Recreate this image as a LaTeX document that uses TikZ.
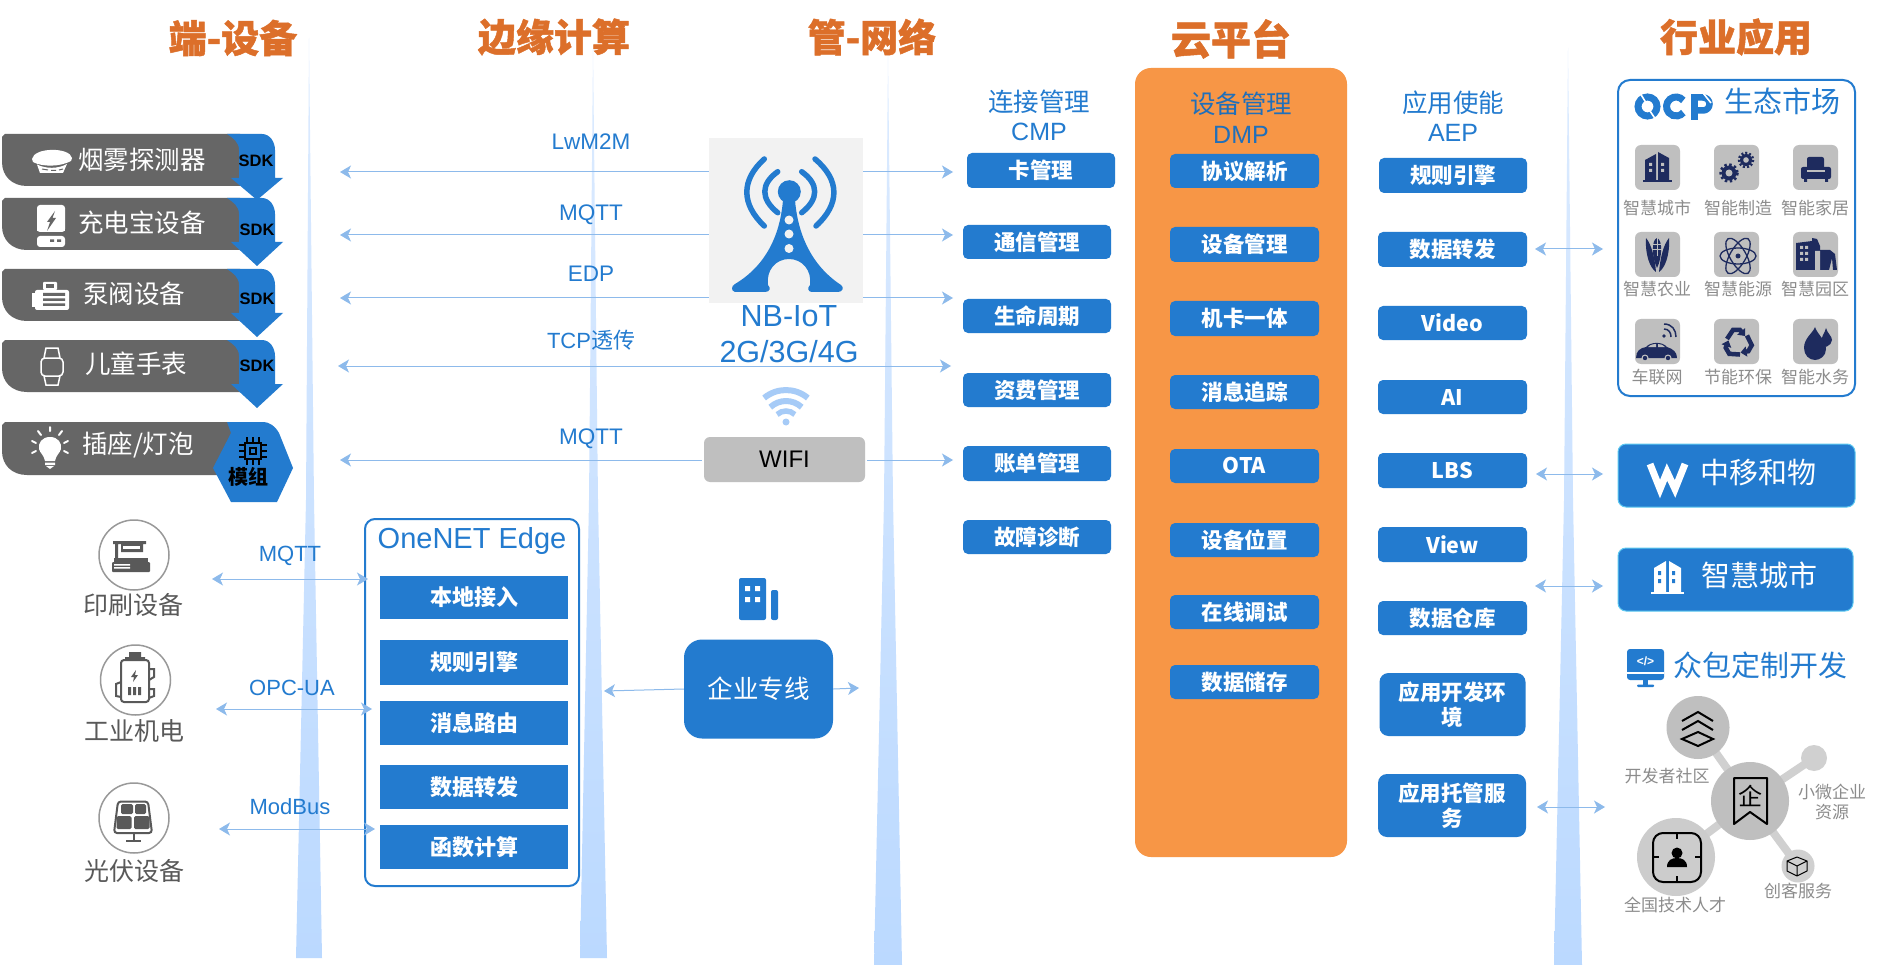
\documentclass[tikz,border=0pt]{standalone}
\usepackage{fontspec}
\setmainfont{Liberation Sans}
\newfontfamily\cjk{Noto Sans CJK SC}
\newfontfamily\cjkt{Noto Sans CJK SC}[BoldFeatures={FakeBold=1.2}]
\usetikzlibrary{arrows.meta,calc}
\definecolor{cblue}{HTML}{237BCF}
\definecolor{ctitle}{HTML}{DC6F2A}
\definecolor{carr}{HTML}{8DBAEB}
\definecolor{cnavy}{HTML}{1E2B5E}
\definecolor{cgray}{HTML}{666666}
\definecolor{cdark}{HTML}{595959}
\definecolor{ctile}{HTML}{BFBFBF}
\definecolor{clab}{HTML}{8C8C8C}
\definecolor{corange}{HTML}{F79646}
\definecolor{cspikeA}{HTML}{DCEBFF}
\definecolor{cspikeM}{HTML}{CAE1FF}
\definecolor{cspikeB}{HTML}{BBD9FF}
\definecolor{ctower}{HTML}{F2F2F2}
\definecolor{cwifi}{HTML}{A6CBF7}
\definecolor{ccyan}{HTML}{5CC8F0}
\definecolor{clink}{HTML}{D0D0D0}
\newcommand\zr[1]{\cjk\fontsize{#1}{#1}\selectfont}
\newcommand\zb[1]{\cjk\bfseries\fontsize{#1}{#1}\selectfont}
\newcommand\zt[1]{\cjkt\bfseries\fontsize{#1}{#1}\selectfont}
\newcommand\enr[1]{\rmfamily\fontsize{#1}{#1}\selectfont}
\newcommand\enb[1]{\rmfamily\bfseries\fontsize{#1}{#1}\selectfont}
% name x y font colour text
\newcommand\tx[6]{\node[inner sep=0pt,text=#5,font=#4,align=center] (#1) at (#2,#3) {#6};}
% name x1 y1 x2 y2 size text
\newcommand\bbox[7]{\node[bluebox,minimum width={(#4-#2)*1pt},minimum height={(#5-#3)*1pt},font=\zb{#6}] (#1) at ({(#2+#4)/2},{(#3+#5)/2}) {#7};}
\newcommand\flatbox[7]{\node[blueflat,minimum width={(#4-#2)*1pt},minimum height={(#5-#3)*1pt},font=\zb{#6}] (#1) at ({(#2+#4)/2},{(#3+#5)/2}) {#7};}
% spike: xtop ytop xl500 xr500 xl xr ybot
\newcommand\spike[7]{\shade[top color=cspikeA,middle color=cspikeM,bottom color=cspikeB] (#1,#2) -- (#4,500) -- (#6,#7) -- (#5,#7) -- (#3,500) -- cycle;}
% device bar: y1 y2
\newcommand\devbar[2]{\fill[cgray] (5,#1) -- (240,#1) -- (240,#2) -- (27,#2) .. controls (12,#2) and (2,{#2-10}) .. (2,{#2-24}) -- (2,{#1+3}) -- cycle;}
\newcommand\sdk[4]{\devbar{#1}{#2}\fill[cblue] (227,#1) -- (262,#1) .. controls (270,#1) and (275,{#1+8}) .. (275,{#1+16}) -- (275,#3) -- (283,#3) -- (257,#4) -- (231,#3) -- (239,#3) -- (239,{#1+16}) .. controls (239,{#1+8}) and (233,{#1+4}) .. (227,#1) -- cycle;}
\newcommand\tile[2]{\fill[ctile,rounded corners=6pt] (#1,#2) rectangle ++(45,45);}
\tikzset{
 arr/.style={draw=carr,line width=1pt,-{Stealth[length=11pt,width=13pt,inset=3pt]}},
 darr/.style={draw=carr,line width=1pt,{Stealth[length=11pt,width=13pt,inset=3pt]}-{Stealth[length=11pt,width=13pt,inset=3pt]}},
 bluebox/.style={fill=cblue,text=white,inner sep=0pt,rounded corners=5pt,align=center},
 blueflat/.style={fill=cblue,text=white,inner sep=0pt,align=center},
 devring/.style={draw=gray!80,line width=1.5pt,fill=white,circle,inner sep=0pt,minimum size=70pt},
 ic/.style={cdark},
}
\begin{document}
\begin{tikzpicture}[x=1pt,y=-1pt]
\useasboundingbox (0,0) rectangle (1902,965);
\fill[white] (0,0) rectangle (1902,965);
% spikes
\spike{309}{38}{306}{314}{296}{322}{958}
\spike{593}{48}{589}{598}{580}{607}{958}
\spike{888}{55}{884}{893}{874}{902}{965}
\spike{1568}{48}{1564}{1573}{1554}{1582}{965}
% titles
\tx{t1}{233}{38}{\zt{38}}{ctitle}{端-设备}
\tx{t2}{554}{37}{\zt{38}}{ctitle}{边缘计算}
\tx{t3}{872}{37}{\zt{38}}{ctitle}{管-网络}
\tx{t4}{1231}{39}{\zt{40}}{ctitle}{云平台}
\tx{t5}{1736}{37}{\zt{38}}{ctitle}{行业应用}
% device rows
\sdk{134}{186}{178}{200}
\sdk{198}{250}{242}{266}
\sdk{269}{321}{313}{337}
\sdk{340}{392}{384}{408}
\devbar{422}{475}
\fill[cblue] (227,422) -- (262,422) .. controls (270,422) and (275,426) .. (279,433) -- (293,468) -- (277,502) -- (231,502) -- (213,468) -- (231,433) -- cycle;
\tx{s1}{256}{161}{\enb{16.5}}{black}{SDK}
\tx{s2}{257}{230}{\enb{16.5}}{black}{SDK}
\tx{s3}{257}{299}{\enb{16.5}}{black}{SDK}
\tx{s4}{257}{366}{\enb{16.5}}{black}{SDK}
\tx{d1}{142}{160}{\zr{25.5}}{white}{烟雾探测器}
\tx{d2}{142}{223}{\zr{25.5}}{white}{充电宝设备}
\tx{d3}{134}{294}{\zr{25.5}}{white}{泵阀设备}
\tx{d4}{136}{364}{\zr{25.5}}{white}{儿童手表}
\tx{d5}{138}{445}{\zr{25.5}}{white}{插座/灯泡}
\tx{mz}{248}{477}{\zb{20}}{black}{模组}
% chip icon
\draw[black,line width=2pt] (245,443) rectangle (261,459);
\draw[black,line width=2pt] (250,448) rectangle (256,454);
\foreach \i in {-6,0,6}{
 \draw[black,line width=1.5pt] ({253+\i},437) -- ({253+\i},443) ({253+\i},459) -- ({253+\i},465) (239,{451+\i}) -- (245,{451+\i}) (261,{451+\i}) -- (267,{451+\i});
}
% smoke detector
\fill[white] (32,159) .. controls (34,147) and (70,147) .. (72,158) -- (71,161) .. controls (60,167) and (42,167) .. (33,162) -- cycle;
\fill[white] (37,164.5) .. controls (46,169) and (58,169) .. (67,164) -- (63,173) -- (40,173) -- cycle;
\draw[cgray,line width=1pt] (42,169) -- (48,170) (51,170.5) -- (56,170.5) (59,170) -- (63,169);
% power bank
\fill[white,rounded corners=3pt] (37,205) rectangle (65,232);
\fill[white,rounded corners=3pt] (37,236) rectangle (65,247);
\fill[white] (37,226) rectangle (65,231.5);
\fill[cgray] (55,211) -- (47,222) -- (50,222) -- (47,231) -- (56,218) -- (52.5,218) -- cycle;
\fill[cgray] (50,239.5) rectangle (54,242) (57,239.5) rectangle (61,242);
% pump
\fill[white,rounded corners=2pt] (35,290) rectangle (69,310);
\fill[white] (32,293) rectangle (35,307);
\fill[white,rounded corners=1pt] (43,282) rectangle (57,290);
\fill[cgray] (46,284) rectangle (54,288);
\fill[cgray] (43,293) rectangle (65,296) (43,298.5) rectangle (65,301) (43,303.5) rectangle (65,306);
% watch
\draw[white,line width=1.5pt,rounded corners=4pt] (41,358) rectangle (63,376);
\draw[white,line width=1.5pt] (44,358) -- (46,348) -- (58,348) -- (60,358) (44,376) -- (46,385) -- (58,385) -- (60,376);
% bulb
\fill[white] (50,437) .. controls (42,437) and (38,443) .. (39,449) .. controls (40,453) and (44,455) .. (45,461) -- (55,461) .. controls (56,455) and (60,453) .. (61,449) .. controls (62,443) and (58,437) .. (50,437) -- cycle;
\fill[white] (45,462.5) rectangle (55,465) (46,466) -- (54,466) -- (50,469) -- cycle;
\draw[white,line width=2pt,line cap=round] (50,427) -- (50,431) (38,431) -- (41,435) (62,431) -- (59,435) (32,441) -- (36,443) (68,441) -- (64,443) (32,453) -- (36,451) (68,453) -- (64,451);
% protocol labels
\tx{l1}{591}{142}{\enr{22.5}}{cblue}{LwM2M}
\tx{l2}{591}{215}{\enr{22.5}}{cblue}{MQTT}
\tx{l3}{591}{274}{\enr{22.5}}{cblue}{EDP}
\tx{l4}{591}{340}{\enr{22}}{cblue}{TCP{\zr{22}透传}}
\tx{l5}{591}{439}{\enr{22.5}}{cblue}{MQTT}
% tower
\node[fill=ctower,inner sep=0pt,minimum width=154pt,minimum height=165pt] (tower) at (786,220.5) {};
\node[fill=black!25,inner sep=0pt,rounded corners=6pt,minimum width=161pt,minimum height=45pt,text=black,font=\enr{24}] (wifi) at (784.5,459.5) {WIFI};
\begin{scope}[cblue]
\draw[line width=5.5pt,line cap=round] (764.3,159) .. controls (741,180) and (741,204) .. (764.3,226);
\draw[line width=5.5pt,line cap=round] (815,159) .. controls (840,180) and (840,204) .. (816,226);
\draw[line width=5.5pt,line cap=round] (777.7,171.7) .. controls (760.5,184) and (760.5,199) .. (777.7,212.7);
\draw[line width=5.5pt,line cap=round] (801.7,171.7) .. controls (819,184) and (819,199) .. (801.7,212.7);
\fill (789.3,191.7) circle (11.5);
\fill (783,200) .. controls (781,225) and (772,262) .. (735,284) .. controls (731,286) and (731,291) .. (735,292) -- (765,292) .. controls (770,292) and (771,288) .. (768,285) .. controls (766,270) and (776,259) .. (789,259) .. controls (802,259) and (812,270) .. (810,285) .. controls (807,288) and (808,292) .. (812,292) -- (838,292) .. controls (843,292) and (844,287) .. (841,285) .. controls (806,262) and (797,225) .. (795,200) -- cycle;
\fill[ctower] (789,220) circle (4.5) (789,234) circle (4.5) (789,248.5) circle (4.5);
\end{scope}
\tx{nb}{789}{316}{\enr{30.5}}{cblue}{NB-IoT}
\tx{g4}{789}{352}{\enr{30.5}}{cblue}{2G/3G/4G}
% wifi arcs
\fill[cwifi] (786,422) circle (3.5);
\draw[cwifi,line width=6pt] (764.1,398) arc[start angle=130,end angle=50,radius=34pt];
\draw[cwifi,line width=6pt] (770.3,407.2) arc[start angle=133,end angle=47,radius=23pt];
\draw[cwifi,line width=5.5pt] (777.1,414.5) arc[start angle=133,end angle=47,radius=13pt];
% CMP
\tx{h1}{1039}{102}{\zr{25.5}}{cblue}{连接管理}
\tx{h1b}{1039}{132}{\enr{25}}{cblue}{CMP}
\bbox{c1}{967}{153}{1115}{188}{21.5}{卡管理}
\bbox{c2}{963}{225}{1111}{259}{21.5}{通信管理}
\bbox{c3}{963}{299}{1111}{333}{21.5}{生命周期}
\bbox{c4}{963}{373}{1111}{407}{21.5}{资费管理}
\bbox{c5}{963}{446}{1111}{481}{21.5}{账单管理}
\bbox{c6}{963}{520}{1111}{554}{21.5}{故障诊断}
% protocol connectors
\coordinate (pl1) at (340,172); \coordinate (pr1) at (953,172);
\coordinate (pl2) at (340,235); \coordinate (pr2) at (953,235);
\coordinate (pl3) at (340,298); \coordinate (pr3) at (953,298);
\coordinate (pl4) at (338,366); \coordinate (pr4) at (951,366);
\coordinate (pl5) at (340,460); \coordinate (pr5) at (953,460);
\draw[arr] (tower.west |- pl1) -- (pl1);
\draw[arr] (tower.east |- pr1) -- (pr1);
\draw[arr] (tower.west |- pl2) -- (pl2);
\draw[arr] (tower.east |- pr2) -- (pr2);
\draw[arr] (tower.west |- pl3) -- (pl3);
\draw[arr] (tower.east |- pr3) -- (pr3);
\draw[darr] (pl4) -- (pr4);
\draw[arr] ($(wifi.west |- pl5)+(-2,0)$) -- (pl5);
\draw[arr] ($(wifi.east |- pr5)+(2,0)$) -- (pr5);
% field devices
\node[devring] (r1) at (134,555) {};
\node[devring] (r2) at (135.5,680) {};
\node[devring] (r3) at (134,818) {};
\tx{f1}{133}{605}{\zr{25}}{cdark}{印刷设备}
\tx{f2}{134}{731}{\zr{25}}{cdark}{工业机电}
\tx{f3}{134}{871}{\zr{25}}{cdark}{光伏设备}
% printer
\fill[ic] (113,541) rectangle (146,544) (115,544) rectangle (118,559) (121,544) rectangle (143,552);
\fill[white] (123,546) rectangle (140,549);
\fill[ic] (114,558) rectangle (148,562);
\fill[ic,rounded corners=1pt] (112,562) rectangle (150,572);
\fill[white] (114,564) rectangle (130,565.5) (114,567) rectangle (130,568.5);
% motor/battery
\draw[ic,line width=2pt,rounded corners=3pt] (121,660) rectangle (149,702);
\fill[ic] (125,657) rectangle (145,660) (129,652) rectangle (141,657);
\draw[ic,line width=2pt] (149,669) -- (154,669) -- (154,677) -- (149,680) (149,689) -- (154,689) -- (154,696) -- (149,698) (121,682) -- (116,684) -- (116,696) -- (121,697);
\fill[ic] (136,670) -- (131,677) -- (134,677) -- (133,682) -- (138,675) -- (135,675) -- cycle;
\fill[ic] (128,687) rectangle (131,695) (133,687) rectangle (136,695) (138,687) rectangle (141,695);
% solar panel
\draw[ic,line width=2pt,rounded corners=3pt] (118,801.5) -- (148,801.5) -- (152,833) -- (114,833) -- cycle;
\fill[ic,rounded corners=1.5pt] (121,804) rectangle (133,814) (135,804) rectangle (146,814) (116.5,816) rectangle (131.5,829) (134,816) rectangle (149.5,829);
\fill[ic] (132.5,833) rectangle (135,840);
\fill[ic] (126,840) rectangle (141,842);
% field connectors
\node[draw=cblue,line width=2pt,rounded corners=10pt,inner sep=0pt,minimum width=214pt,minimum height=367pt] (edge) at (472,702.5) {};
\tx{eg}{472}{541}{\enr{29}}{cblue}{OneNET Edge}
\tx{m1}{290}{556}{\enr{22}}{cblue}{MQTT}
\tx{m2}{292}{688}{\enr{22}}{cblue}{OPC-UA}
\tx{m3}{290}{807}{\enr{22}}{cblue}{ModBus}
\coordinate (a1) at (212,579); \coordinate (b1) at (368,579);
\coordinate (a2) at (216,709); \coordinate (b2) at (372,709);
\coordinate (a3) at (219,829); \coordinate (b3) at (375,829);
\draw[darr] (a1) -- (b1);
\draw[darr] (a2) -- (b2);
\draw[darr] (a3) -- (b3);
\flatbox{e1}{380}{576}{568}{619}{22}{本地接入}
\flatbox{e2}{380}{640}{568}{685}{22}{规则引擎}
\flatbox{e3}{380}{701}{568}{745}{22}{消息路由}
\flatbox{e4}{380}{765}{568}{809}{22}{数据转发}
\flatbox{e5}{380}{825}{568}{869}{22}{函数计算}
% enterprise line
\node[fill=cblue,inner sep=0pt,rounded corners=18pt,minimum width=149pt,minimum height=99pt,text=white,font=\zr{25.5}] (ent) at (758.5,689) {企业专线};
\coordinate (el) at (604,691); \coordinate (er) at (859,688);
\draw[arr] (ent.west) -- (el);
\draw[arr] (ent.east) -- (er);
\fill[cblue,rounded corners=2pt] (739,578) rectangle (766,620) (771,590) rectangle (778,620);
\fill[white] (745,586) rectangle (750,591) (755,586) rectangle (760,591) (745,597) rectangle (750,602) (755,597) rectangle (760,602);
% orange platform
\fill[corange,rounded corners=16pt] (1135,68) rectangle (1347,857);
\tx{h2}{1241}{104}{\zr{25.5}}{cblue!90!black}{设备管理}
\tx{h2b}{1241}{135}{\enr{25}}{cblue!90!black}{DMP}
\bbox{g1}{1170}{154}{1319}{188}{21.5}{协议解析}
\bbox{g2}{1170}{227}{1319}{262}{21.5}{设备管理}
\bbox{g3}{1170}{301}{1319}{336}{21.5}{机卡一体}
\bbox{g4b}{1170}{375}{1319}{409}{21.5}{消息追踪}
\bbox{g5}{1170}{449}{1319}{483}{21.5}{OTA}
\bbox{g6}{1170}{523}{1319}{557}{21.5}{设备位置}
\bbox{g7}{1170}{595}{1319}{629}{21.5}{在线调试}
\bbox{g8}{1170}{665}{1319}{699}{21.5}{数据储存}
% AEP
\tx{h3}{1453}{103}{\zr{25.5}}{cblue}{应用使能}
\tx{h3b}{1453}{133}{\enr{25}}{cblue}{AEP}
\bbox{a01}{1379}{158}{1527}{193}{21.5}{规则引擎}
\bbox{a02}{1378}{232}{1527}{267}{21.5}{数据转发}
\bbox{a03}{1378}{306}{1527}{340}{21.5}{Video}
\bbox{a04}{1378}{380}{1527}{414}{21.5}{AI}
\bbox{a05}{1378}{453}{1527}{488}{21.5}{LBS}
\bbox{a06}{1378}{527}{1527}{562}{21.5}{View}
\bbox{a07}{1378}{601}{1527}{635}{21.5}{数据仓库}
\node[bluebox,rounded corners=9pt,minimum width=146pt,minimum height=63pt,font=\cjk\bfseries\fontsize{21.5}{25}\selectfont] (a08) at (1452.5,704.5) {应用开发环\\境};
\node[bluebox,rounded corners=9pt,minimum width=148pt,minimum height=63pt,font=\cjk\bfseries\fontsize{21.5}{25}\selectfont] (a09) at (1452,805.5) {应用托管服\\务};
% market arrows
\coordinate (q1) at (1535,249); \coordinate (w1) at (1603,249);
\coordinate (q2) at (1536,474); \coordinate (w2) at (1603,474);
\coordinate (q3) at (1535,586); \coordinate (w3) at (1603,586);
\coordinate (q4) at (1537,807); \coordinate (w4) at (1605,807);
\draw[darr] (q1) -- (w1);
\draw[darr] (q2) -- (w2);
\draw[darr] (q3) -- (w3);
\draw[darr] (q4) -- (w4);
% OCP market
\node[draw=cblue,line width=2pt,rounded corners=12pt,inner sep=0pt,minimum width=237pt,minimum height=316pt] (ocp) at (1736.5,238) {};
% OCP logo
\draw[cblue,line width=7pt] (1647.5,106.5) circle (9.5);
\draw[white,line width=1.6pt] (1640,93) -- (1645.5,102) (1650,111) -- (1656,120);
\draw[cblue,line width=7pt] (1683.3,100.4) arc[start angle=40,end angle=320,radius=9.5pt];
\fill[cblue] (1691,94) rectangle (1698,120);
\draw[cblue,line width=6.5pt] (1695,97.5) -- (1703,97.5) arc[start angle=90,end angle=-90,radius=6.5pt] -- (1695,110.5);
\draw[white,line width=1.6pt] (1703,93) -- (1711,103);
\tx{oc2}{1782}{101}{\zr{29}}{cblue}{生态市场}
\tile{1635}{145}\tile{1714}{145}\tile{1793}{145}
\tile{1635}{232}\tile{1714}{232}\tile{1793}{232}
\tile{1635}{319}\tile{1714}{319}\tile{1793}{319}
\tx{k1}{1657}{208}{\zr{17}}{clab}{智慧城市}
\tx{k2}{1738}{208}{\zr{17}}{clab}{智能制造}
\tx{k3}{1815}{208}{\zr{17}}{clab}{智能家居}
\tx{k4}{1657}{289}{\zr{17}}{clab}{智慧农业}
\tx{k5}{1738}{289}{\zr{17}}{clab}{智慧能源}
\tx{k6}{1815}{289}{\zr{17}}{clab}{智慧园区}
\tx{k7}{1657}{377}{\zr{17}}{clab}{车联网}
\tx{k8}{1738}{377}{\zr{17}}{clab}{节能环保}
\tx{k9}{1815}{377}{\zr{17}}{clab}{智能水务}
\begin{scope}[cnavy]
% building
\fill (1645,180) -- (1645,160) -- (1656,154) -- (1656,180) -- cycle;
\fill (1658,152) -- (1669,158) -- (1669,180) -- (1658,180) -- cycle;
\fill (1643,180) rectangle (1672,182);
\fill[ctile] (1649,163) rectangle (1652,166) (1649,169) rectangle (1652,172) (1661,163) rectangle (1664,166) (1661,169) rectangle (1664,172);
% gears
\fill (1729,173) circle (7.5);
\draw[line width=2.5pt,dash pattern=on 2.5pt off 2.5pt] (1729,173) circle (8.5);
\fill[ctile] (1729,173) circle (3.5);
\fill (1746,160) circle (6);
\draw[line width=2.5pt,dash pattern=on 2pt off 2pt] (1746,160) circle (7);
\fill[ctile] (1746,160) circle (2.8);
% sofa
\fill[rounded corners=2pt] (1807,157) rectangle (1824,172);
\fill[rounded corners=2pt] (1801,167) rectangle (1831,179);
\fill[ctile] (1807,170) rectangle (1825,172);
\fill (1804,179) rectangle (1807,182) (1825,179) rectangle (1828,182);
% corn
\fill (1646,238) .. controls (1645,255) and (1650,268) .. (1656,272) .. controls (1655,260) and (1652,245) .. (1646,238) -- cycle;
\fill (1669,238) .. controls (1670,255) and (1665,268) .. (1659,272) .. controls (1660,260) and (1663,245) .. (1669,238) -- cycle;
\fill (1657,238) .. controls (1651,240) and (1652,258) .. (1657,268) .. controls (1662,258) and (1663,240) .. (1657,238) -- cycle;
\draw[ctile,line width=.7pt] (1652,244) -- (1663,244) (1652,249) -- (1663,249) (1657,238) -- (1657,256);
% atom
\draw[line width=1.3pt,rotate around={60:(1738,256)}] (1738,256) ellipse (20 and 8);
\draw[line width=1.3pt,rotate around={-60:(1738,256)}] (1738,256) ellipse (20 and 8);
\draw[line width=1.3pt] (1738,256) ellipse (18 and 8);
\fill (1738,256) circle (2.5);
% buildings
\fill (1796,249) -- (1796,243) -- (1812,241) -- (1812,238) -- (1817,239) -- (1820,246) -- (1820,270) -- (1796,270) -- cycle;
\fill (1820,270) -- (1820,250) -- (1830,250) -- (1835,254) -- (1837,270) -- (1833,270) -- (1832,258) -- (1829,270) -- cycle;
\fill[ctile] (1800,246) rectangle (1803,249) (1805,246) rectangle (1808,249) (1800,252) rectangle (1803,255) (1805,252) rectangle (1808,255) (1800,258) rectangle (1803,261) (1805,258) rectangle (1808,261) (1815,251) -- (1820,251) -- (1820,270) -- (1815,270) -- cycle;
% car
\fill (1636,358) .. controls (1636,351) and (1640,348) .. (1646,347) .. controls (1650,342) and (1662,341) .. (1667,347) .. controls (1673,349) and (1677,352) .. (1677,358) -- cycle;
\fill[ctile] (1648,347) .. controls (1651,344) and (1655,344) .. (1656,344) -- (1656,347) -- cycle (1658,344) .. controls (1661,344) and (1663,345) .. (1665,347) -- (1658,347) -- cycle;
\fill[ctile] (1645,358) circle (3.5) (1668,358) circle (3.5);
\fill (1645,358) circle (2.2) (1668,358) circle (2.2);
\fill (1664,336) circle (1.8);
\draw[line width=1.5pt] (1664,329) .. controls (1669,329) and (1671,333) .. (1671,337);
\draw[line width=1.5pt] (1664,324) .. controls (1672,324) and (1676,330) .. (1676,337);
% recycle
\foreach \a in {0,120,240}{
 \begin{scope}[shift={(1738,343)},rotate=\a]
 \draw[line width=4.5pt,-{Triangle[length=6pt,width=10pt]}] (-11,-4) -- (-5,-13) -- (2,-13) -- (7,-7);
 \end{scope}
}
% drops
\fill (1815,327) .. controls (1813,333) and (1804,338) .. (1804,348) .. controls (1804,355) and (1809,360) .. (1815,360) .. controls (1820,360) and (1826,356) .. (1826,349) .. controls (1826,340) and (1817,334) .. (1815,327) -- cycle;
\fill (1826,328) .. controls (1825,333) and (1820,338) .. (1821,344) .. controls (1822,350) and (1832,346) .. (1832,340) .. controls (1832,336) and (1827,333) .. (1826,328) -- cycle;
\end{scope}
% big buttons
\node[fill=cblue,draw=ccyan,line width=1pt,rounded corners=8pt,inner sep=0pt,minimum width=237pt,minimum height=63pt] (bt1) at (1736.5,475.5) {};
\tx{bt1t}{1758}{473}{\zr{29}}{white}{中移和物}
\draw[white,line width=7pt,miter limit=3] (1650,464) -- (1660,489) -- (1667,472) -- (1675,489) -- (1685,464);
\node[fill=cblue,draw=ccyan,line width=1pt,rounded corners=8pt,inner sep=0pt,minimum width=235pt,minimum height=63pt] (bt2) at (1735.5,579.5) {};
\tx{bt2t}{1759}{575}{\zr{29}}{white}{智慧城市}
\fill[white] (1654,592) -- (1654,568) -- (1666,561) -- (1666,592) -- cycle;
\fill[white] (1669,561) -- (1681,568) -- (1681,592) -- (1669,592) -- cycle;
\fill[white] (1651,592) rectangle (1684,594);
\fill[cblue] (1658,571) rectangle (1661,575) (1658,579) rectangle (1661,583) (1672,571) rectangle (1675,575) (1672,579) rectangle (1675,583);
% crowd dev
\tx{zb}{1760}{665}{\zr{29}}{cblue}{众包定制开发}
\fill[cblue,rounded corners=3pt] (1627,649) rectangle (1664,680);
\fill[white] (1627,672) rectangle (1664,674);
\fill[cblue] (1643,680) rectangle (1648,685);
\fill[cblue,rounded corners=1pt] (1637,684.5) rectangle (1654,687);
\tx{zbi}{1645.5}{661}{\enb{12}}{white}{</>}
% network graph
\coordinate (gcC) at (1750,801);
\coordinate (gtC) at (1698,727.5);
\coordinate (gbC) at (1676,857);
\coordinate (grC) at (1814,758);
\coordinate (gsC) at (1798,866);
\draw[clink,line width=8pt] (gcC) -- (gtC);
\draw[clink,line width=8pt] (gcC) -- (grC);
\draw[clink,line width=8pt] (gcC) -- (gbC);
\draw[clink,line width=8pt] (gcC) -- (gsC);
\node[circle,fill=ctile,inner sep=0pt,minimum size=78pt] (gc) at (gcC) {};
\node[circle,fill=ctile,inner sep=0pt,minimum size=63pt] (gt) at (gtC) {};
\node[circle,fill=black!20,inner sep=0pt,minimum size=78pt] (gb) at (gbC) {};
\node[circle,fill=clink,inner sep=0pt,minimum size=26pt] (gr) at (grC) {};
\node[circle,fill=clink,inner sep=0pt,minimum size=33pt] (gs) at (gsC) {};
\tx{n1}{1667}{776}{\zr{17}}{clab}{开发者社区}
\tx{n2}{1832}{792}{\zr{17}}{clab}{小微企业}
\tx{n2b}{1832}{812}{\zr{17}}{clab}{资源}
\tx{n3}{1675}{905}{\zr{17}}{clab}{全国技术人才}
\tx{n4}{1798}{891}{\zr{17}}{clab}{创客服务}
\draw[black,line width=2pt] (1682,721) -- (1698,712) -- (1713,721) (1682,730) -- (1698,721) -- (1713,730) (1698,732) -- (1713,739) -- (1698,746) -- (1682,739) -- cycle;
\draw[black,line width=2pt,line join=round] (1734,778) -- (1734,824) -- (1750,812) -- (1767,824) -- (1767,778) -- cycle;
\tx{qi}{1750}{796}{\zr{24}}{black}{企}
\draw[black,line width=2pt,rounded corners=10pt] (1653,833) rectangle (1701,882);
\draw[black,line width=2pt] (1677,833) -- (1677,839) (1677,876) -- (1677,882) (1653,857) -- (1659,857) (1695,857) -- (1701,857);
\fill[black] (1677,853) circle (5.5);
\fill[black] (1667,867) .. controls (1667,860) and (1672,858) .. (1677,858) .. controls (1682,858) and (1687,860) .. (1687,867) -- cycle;
\draw[black,line width=1pt,line join=round] (1797,857) -- (1807,861) -- (1807,871) -- (1797,876) -- (1787,871) -- (1787,861) -- cycle (1787,861) -- (1797,866) -- (1807,861) (1797,866) -- (1797,876);
\end{tikzpicture}
\end{document}
